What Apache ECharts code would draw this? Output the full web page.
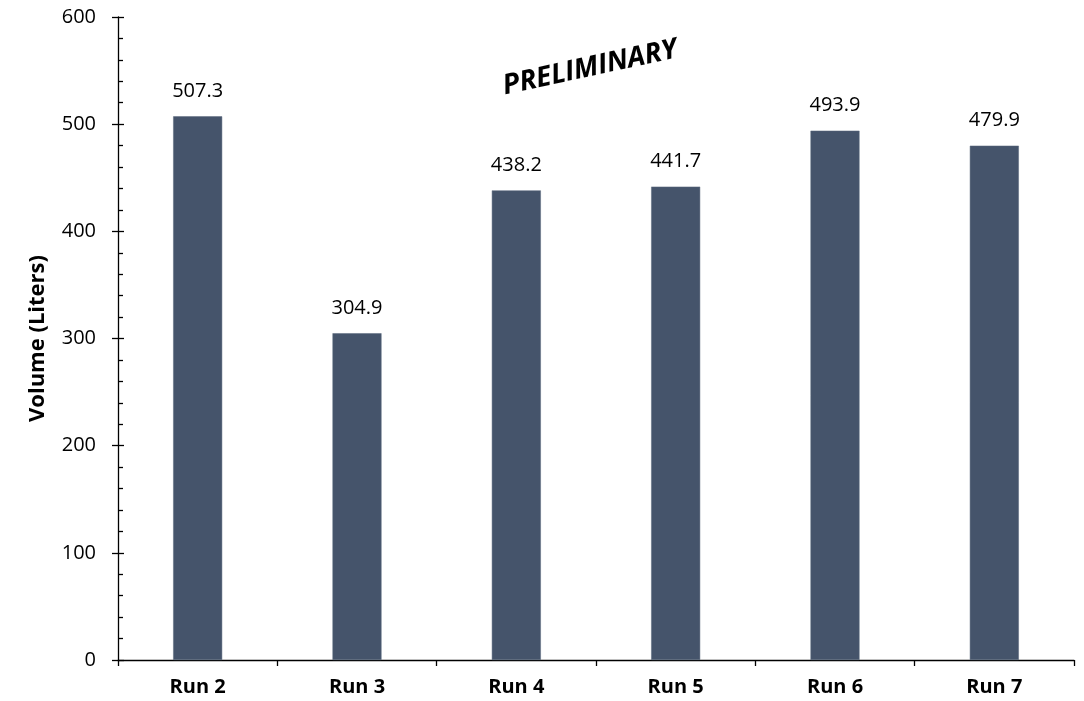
<!DOCTYPE html>
<html>
<head>
<meta charset="utf-8">
<script src="https://cdn.jsdelivr.net/npm/echarts@6/dist/echarts.min.js"></script>
<style>
html,body{margin:0;padding:0;background:#fff;}
#chart{width:1084px;height:701px;}
</style>
</head>
<body>
<div id="chart"></div>
<script>
var categories = ['Run 2', 'Run 3', 'Run 4', 'Run 5', 'Run 6', 'Run 7'];
var volumes = [507.3, 304.9, 438.2, 441.7, 493.9, 479.9];
var yTicks = { min: 0, max: 600, interval: 100 };
var yTitle = 'Volume (Liters)';
var watermark = 'PRELIMINARY';

var FONT = '"Open Sans", "Liberation Sans", sans-serif';
var chart = echarts.init(document.getElementById('chart'), null, { renderer: 'canvas' });
chart.setOption({
  backgroundColor: '#ffffff',
  animation: false,
  textStyle: { fontFamily: FONT },
  grid: { left: 118, right: 10, top: 17, bottom: 41, containLabel: false, outerBoundsMode: 'none' },
  xAxis: {
    type: 'category',
    data: categories,
    boundaryGap: true,
    axisLine: { show: true, lineStyle: { color: '#000', width: 1.3 } },
    axisTick: { show: true, inside: false, length: 6, alignWithLabel: false, lineStyle: { color: '#000', width: 1.3 } },
    axisLabel: { color: '#000', fontSize: 20, fontWeight: 'bold', fontFamily: FONT, margin: 17 },
    splitLine: { show: false }
  },
  yAxis: [
    {
      type: 'value',
      min: yTicks.min, max: yTicks.max, interval: yTicks.interval,
      name: yTitle,
      nameLocation: 'middle',
      nameGap: 69,
      nameTextStyle: { color: '#000', fontSize: 22, fontWeight: 'bold', fontFamily: FONT },
      axisLine: { show: true, lineStyle: { color: '#000', width: 1.3 } },
      axisTick: { show: true, inside: true, length: 6, lineStyle: { color: '#000', width: 1.3 } },
      minorTick: { show: true, splitNumber: 5, length: 5, lineStyle: { color: '#000', width: 1.3 } },
      axisLabel: { color: '#000', fontSize: 20, fontFamily: FONT, margin: 22 },
      splitLine: { show: false }
    },
    {
      type: 'value',
      position: 'left',
      offset: 0,
      min: yTicks.min, max: yTicks.max, interval: yTicks.interval,
      axisLine: { show: false },
      axisTick: { show: true, inside: false, length: 6, lineStyle: { color: '#000', width: 1.3 } },
      axisLabel: { show: false },
      splitLine: { show: false }
    }
  ],
  series: [{
    type: 'bar',
    yAxisIndex: 0,
    data: volumes,
    barWidth: 49,
    itemStyle: { color: '#45546b', borderColor: '#5a687d', borderWidth: 0.5 },
    label: {
      show: true, position: 'top', distance: 15,
      color: '#000', fontSize: 20, fontFamily: FONT,
      formatter: function (p) { return p.value.toFixed(1); }
    }
  }],
  graphic: [{
    type: 'text',
    x: 590, y: 68,
    rotation: 12.2 * Math.PI / 180,
    style: {
      text: watermark,
      fill: '#000',
      font: 'italic bold 28px "Open Sans", "Liberation Sans", sans-serif',
      align: 'center',
      verticalAlign: 'middle'
    }
  }]
});
</script>
</body>
</html>
